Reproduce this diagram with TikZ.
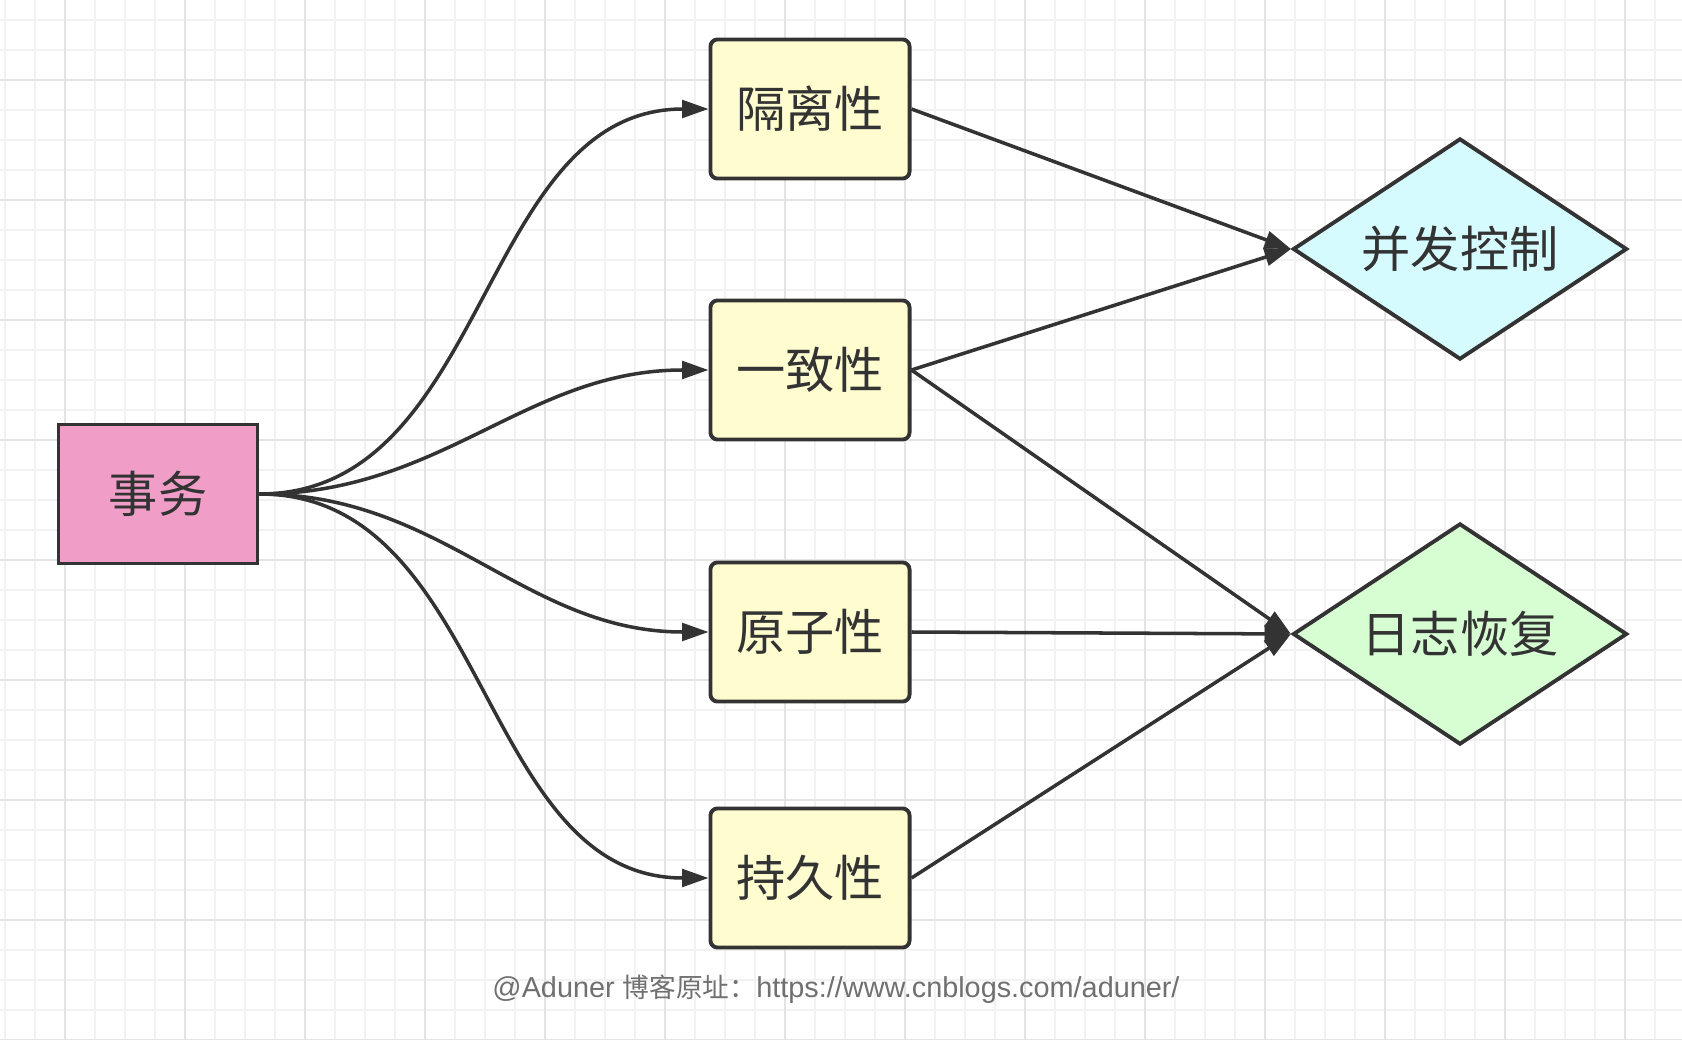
\documentclass[tikz,border=0pt]{standalone}
\usepackage{fontspec}
\setmainfont{Noto Sans CJK SC}
\newfontfamily\urlfont{Liberation Sans}
\usetikzlibrary{arrows.meta,shapes.geometric}
\definecolor{inkgray}{HTML}{333333}
\definecolor{gridminor}{HTML}{F2F2F2}
\definecolor{gridmajor}{HTML}{E4E4E4}
\definecolor{txnpink}{HTML}{F09EC8}
\definecolor{propyellow}{HTML}{FFFDD0}
\definecolor{ctrlcyan}{HTML}{D6FBFF}
\definecolor{loggreen}{HTML}{D7FDD3}
\definecolor{creditgray}{HTML}{707070}
\begin{document}
\begin{tikzpicture}[x=0.01cm,y=-0.01cm,
    box/.style={draw=inkgray,line width=1.1pt,minimum width=1.99cm,minimum height=1.39cm,
        font=\fontsize{14}{16}\selectfont,text=inkgray},
    prop/.style={box,fill=propyellow,rounded corners=2pt},
    goal/.style={draw=inkgray,line width=1.1pt,diamond,aspect=1.5,inner sep=0pt,
        minimum width=3.34cm,minimum height=2.21cm,font=\fontsize{14}{16}\selectfont,text=inkgray},
    link/.style={draw=inkgray,line width=1pt,-{Triangle[length=7.5pt,width=5pt]}},
    minor/.style={draw=gridminor,line width=0.6pt},
    major/.style={draw=gridmajor,line width=0.7pt}]
    \useasboundingbox (0,0) rectangle (1682,1040);
    \fill [white] (0,0) rectangle (1682,1040);
    % background grid
    \foreach \x in {5,35,...,1682} \draw [minor] (\x,0) -- (\x,1040);
    \foreach \y in {20,50,...,1040} \draw [minor] (0,\y) -- (1682,\y);
    \foreach \x in {65,185,...,1682} \draw [major] (\x,0) -- (\x,1040);
    \foreach \y in {80,200,...,1040} \draw [major] (0,\y) -- (1682,\y);
    % nodes
    \node [box,fill=txnpink] (shiwu) at (158,494) {事务};
    \node [prop] (geli) at (810,109) {隔离性};
    \node [prop] (yizhi) at (810,370) {一致性};
    \node [prop] (yuanzi) at (810,632) {原子性};
    \node [prop] (chijiu) at (810,878) {持久性};
    \node [goal,fill=ctrlcyan] (bingfa) at (1460,249) {并发控制};
    \node [goal,fill=loggreen] (rizhi) at (1460,634) {日志恢复};
    % edges
    \draw [link] (shiwu.east) to [out=0,in=180] (geli.west);
    \draw [link] (shiwu.east) to [out=0,in=180] (yizhi.west);
    \draw [link] (shiwu.east) to [out=0,in=180] (yuanzi.west);
    \draw [link] (shiwu.east) to [out=0,in=180] (chijiu.west);
    \draw [link] (geli.east) -- (bingfa.west);
    \draw [link] (yizhi.east) -- (bingfa.west);
    \draw [link] (yizhi.east) -- (rizhi.west);
    \draw [link] (yuanzi.east) -- (rizhi.west);
    \draw [link] (chijiu.east) -- (rizhi.west);
    % credit line
    \node [text=creditgray] (credit) at (836,989)
        {{\urlfont\fontsize{8.2}{10}\selectfont @Aduner }{\fontsize{7.6}{10}\selectfont 博客原址：}{\urlfont\fontsize{8.2}{10}\selectfont https://www.cnblogs.com/aduner/}};
\end{tikzpicture}
\end{document}
